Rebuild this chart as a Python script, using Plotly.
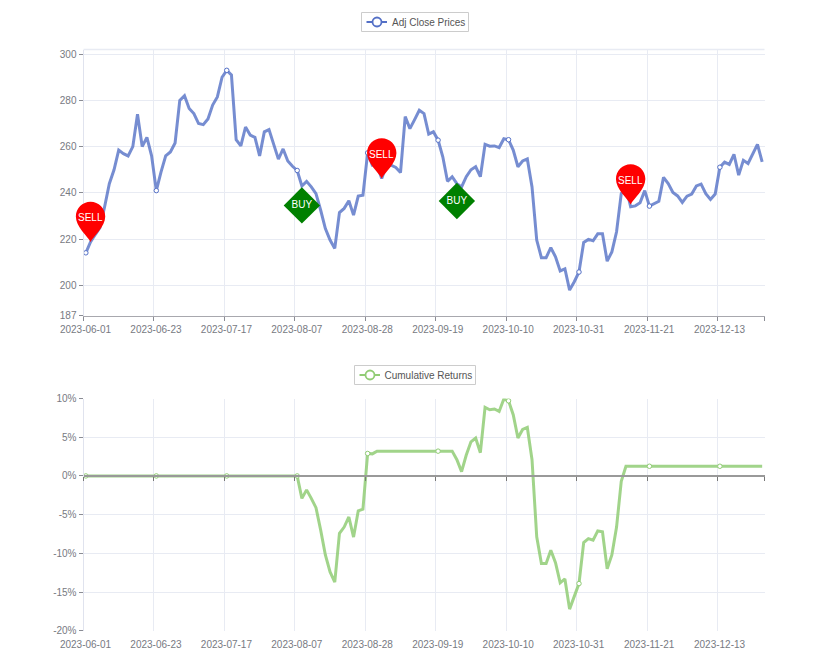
import pandas as pd
import plotly.graph_objects as go

holidays = ["2023-06-19", "2023-07-04", "2023-09-04", "2023-11-23", "2023-12-25"]
dates = [d.strftime("%Y-%m-%d") for d in pd.bdate_range("2023-06-01", "2023-12-27")
         if d.strftime("%Y-%m-%d") not in holidays]

prices = [214.1, 218.8, 222.0, 225.0, 234.0, 244.0, 250.0, 258.5, 257.0, 256.0,
          260.0, 274.0, 260.0, 264.0, 256.0, 241.0, 249.0, 256.0, 257.7, 261.6,
          280.0, 282.0, 276.5, 274.3, 270.0, 269.5, 272.0, 278.0, 281.5, 290.0,
          293.0, 291.0, 263.0, 260.3, 268.5, 265.0, 264.0, 256.0, 266.4, 267.4,
          261.0, 254.6, 259.0, 253.8, 251.5, 249.7, 243.0, 245.0, 242.6, 239.7,
          232.5, 224.6, 219.6, 216.0, 231.5, 233.3, 236.6, 230.4, 238.6, 239.0,
          257.3, 252.0, 252.0, 246.2, 252.0, 252.0, 251.0, 248.8, 273.0, 267.8,
          271.7, 275.7, 274.3, 265.4, 266.4, 262.8, 255.6, 245.0, 247.0, 244.0,
          242.6, 247.0, 250.0, 251.3, 247.0, 261.0, 260.2, 260.3, 259.6, 263.4,
          263.0, 258.5, 251.3, 253.8, 254.7, 242.6, 219.6, 212.0, 212.0, 216.3,
          212.4, 206.3, 207.2, 198.0, 201.6, 205.8, 218.6, 219.9, 219.3, 222.3,
          222.3, 210.5, 214.5, 223.2, 239.7, 242.6, 234.0, 234.4, 235.7, 241.0,
          234.3, 235.4, 236.4, 246.7, 244.0, 240.2, 238.7, 235.9, 238.6, 239.5,
          243.0, 243.8, 239.7, 237.2, 239.5, 251.1, 253.3, 252.3, 256.7, 247.7,
          254.1, 252.7, 256.7, 261.0, 253.4]

returns = [0.0, 0.0, 0.0, 0.0, 0.0, 0.0, 0.0, 0.0, 0.0, 0.0,
           0.0, 0.0, 0.0, 0.0, 0.0, 0.0, 0.0, 0.0, 0.0, 0.0,
           0.0, 0.0, 0.0, 0.0, 0.0, 0.0, 0.0, 0.0, 0.0, 0.0,
           0.0, 0.0, 0.0, 0.0, 0.0, 0.0, 0.0, 0.0, 0.0, 0.0,
           0.0, 0.0, 0.0, 0.0, 0.0, 0.0, -2.9, -1.8, -2.9, -4.1,
           -7.0, -10.2, -12.4, -13.7, -7.4, -6.6, -5.3, -7.9, -4.5, -4.3,
           2.9, 2.85, 3.2, 3.2, 3.2, 3.2, 3.2, 3.2, 3.2, 3.2,
           3.2, 3.2, 3.2, 3.2, 3.2, 3.2, 3.2, 3.2, 3.2, 2.1,
           0.56, 2.7, 4.4, 4.9, 3.0, 8.85, 8.55, 8.64, 8.33, 9.93,
           9.7, 7.9, 4.9, 6.0, 6.26, 2.1, -7.86, -11.3, -11.3, -9.6,
           -11.2, -13.8, -13.3, -17.2, -15.6, -13.9, -8.6, -8.1, -8.3, -7.1,
           -7.2, -12.0, -10.2, -6.6, -0.7, 1.25, 1.25, 1.25, 1.25, 1.25,
           1.25, 1.25, 1.25, 1.25, 1.25, 1.25, 1.25, 1.25, 1.25, 1.25,
           1.25, 1.25, 1.25, 1.25, 1.25, 1.25, 1.25, 1.25, 1.25, 1.25,
           1.25, 1.25, 1.25, 1.25, 1.25]

sell_dates = ["2023-06-02", "2023-08-31", "2023-11-15"]
sell_values = [218.8, 246.2, 235.0]
buy_dates = ["2023-08-08", "2023-09-25"]
buy_values = [234.6, 236.5]
tick_dates = ["2023-06-01", "2023-06-23", "2023-07-17", "2023-08-07", "2023-08-28",
              "2023-09-19", "2023-10-10", "2023-10-31", "2023-11-21", "2023-12-13"]
price_ticks = [187, 200, 220, 240, 260, 280, 300]
return_ticks = [-20, -15, -10, -5, 0, 5, 10]

W, H = 830, 664
BLUE, GREEN = "#5470c6", "#91cc75"
LINE_BLUE, LINE_GREEN = "rgba(84,112,198,0.8)", "rgba(145,204,117,0.85)"
GRID, TXT, TICK = "#E8EBF3", "#777A82", "#8A8C94"
FONT = "Liberation Sans, Arial, sans-serif"
PMIN, PMAX = 187, 302
XD = [83.5 / W, 764.5 / W]
Y1 = [(H - 315.5) / H, (H - 49.5) / H]
Y2 = [(H - 630.8) / H, (H - 398.5) / H]
XR = [-0.5, len(dates) - 0.5]
PIN = ("M0,0 C-3,6 -14.7,15 -14.7,25.5 C-14.7,33.6 -8.1,40.2 0,40.2 "
       "C8.1,40.2 14.7,33.6 14.7,25.5 C14.7,15 3,6 0,0 Z")

fig = go.Figure()


def add_series(name, values, line, color, xa, ya, legend):
    fig.add_trace(go.Scatter(x=dates, y=values, mode="lines", xaxis=xa, yaxis=ya,
                             line=dict(color=line, width=3), showlegend=False, hoverinfo="x+y"))
    fig.add_trace(go.Scatter(x=dates[::15], y=values[::15], mode="markers", xaxis=xa, yaxis=ya,
                             marker=dict(size=4.5, color="white", line=dict(color=color, width=1)),
                             showlegend=False, hoverinfo="skip"))
    fig.add_trace(go.Scatter(x=[None], y=[None], name=name, mode="markers", xaxis=xa, yaxis=ya,
                             marker=dict(size=1, color="rgba(0,0,0,0)"), legend=legend))


add_series("Adj Close Prices", prices, LINE_BLUE, BLUE, "x", "y", "legend")
add_series("Cumulative Returns", returns, LINE_GREEN, GREEN, "x2", "y2", "legend2")

fig.add_trace(go.Scatter(x=buy_dates, y=buy_values, mode="markers+text", text=["BUY"] * len(buy_dates),
                         textposition="middle center", textfont=dict(color="white", size=10, family=FONT),
                         marker=dict(symbol="diamond", size=28, color="green"),
                         showlegend=False, xaxis="x", yaxis="y", hoverinfo="skip"))
# carrier for the tick marks that sit on the zero line of the lower chart
fig.add_trace(go.Scatter(x=dates[:1], y=[0], mode="markers", marker=dict(opacity=0),
                         showlegend=False, xaxis="x3", yaxis="y2", hoverinfo="skip"))

# top edge of the upper plot carries a split line at the axis maximum
shapes = [dict(type="line", xref="x domain", yref="y domain", x0=0, x1=1, y0=1, y1=1,
               line=dict(color=GRID, width=1.5), layer="below")]
annotations = []
for d, v in zip(sell_dates, sell_values):
    fx = (dates.index(d) + 0.5) / len(dates)
    fy = (v - PMIN) / (PMAX - PMIN)
    shapes.append(dict(type="path", xref="x domain", yref="y domain", xsizemode="pixel", ysizemode="pixel",
                       xanchor=fx, yanchor=fy, path=PIN, fillcolor="red", line=dict(width=0), layer="above"))
    annotations.append(dict(x=d, y=v, xref="x", yref="y", text="SELL", showarrow=False, yshift=24,
                            font=dict(color="white", size=10, family=FONT)))


def legend_chrome(left, right, top, bottom, color):
    """Frame and line-and-ring key of a legend, in page pixels."""
    mid = (top + bottom) / 2
    def px(a): return a / W
    def py(a): return 1 - a / H
    shapes.append(dict(type="rect", xref="paper", yref="paper", x0=px(left), x1=px(right), y0=py(bottom), y1=py(top),
                       line=dict(color="#ccc", width=1), fillcolor="white", layer="above"))
    shapes.append(dict(type="line", xref="paper", yref="paper", x0=px(left + 5), x1=px(left + 25.5), y0=py(mid), y1=py(mid),
                       line=dict(color=color, width=2), layer="above"))
    shapes.append(dict(type="circle", xref="paper", yref="paper", x0=px(left + 11), x1=px(left + 20), y0=py(mid + 4.5),
                       y1=py(mid - 4.5), line=dict(color=color, width=1.8), fillcolor="white", layer="above"))


legend_chrome(361.5, 468.5, 12.5, 31.5, BLUE)
legend_chrome(354.5, 475.5, 365.5, 384.5, GREEN)

tickvals = [dates.index(d) - 0.5 for d in tick_dates] + [XR[1]]
ticktext = tick_dates + [""]
xcommon = dict(type="category", range=XR, domain=XD, tickmode="array", tickvals=tickvals, ticktext=ticktext,
               showgrid=True, gridcolor=GRID, gridwidth=1, zeroline=False, ticklabelshift=2, automargin=False,
               tickfont=dict(size=10, color=TXT, family=FONT), ticks="outside", ticklen=4, tickangle=0)
ycommon = dict(showgrid=True, gridcolor=GRID, gridwidth=1, zeroline=False, showline=True, linecolor="#E0E3EE",
               ticks="outside", ticklen=4, tickcolor=TICK, tickfont=dict(size=10, color=TXT, family=FONT),
               tickmode="array", automargin=False)
legcommon = dict(xanchor="left", yanchor="top", bgcolor="rgba(0,0,0,0)", borderwidth=0,
                 font=dict(size=10, color="#555", family=FONT), itemclick=False, itemdoubleclick=False,
                 itemwidth=30, tracegroupgap=0)

fig.update_layout(
    width=W, height=H, margin=dict(l=0, r=0, t=0, b=0), autosize=False,
    paper_bgcolor="white", plot_bgcolor="white", font=dict(family=FONT),
    xaxis=dict(**xcommon, anchor="y", showline=True, linecolor="#A8A8AE", tickcolor=TICK),
    yaxis=dict(**ycommon, domain=Y1, anchor="x", range=[PMIN, PMAX],
               tickvals=price_ticks, ticktext=[str(t) for t in price_ticks]),
    xaxis2=dict(**xcommon, anchor="y2", showline=False, tickcolor="rgba(0,0,0,0)"),
    yaxis2=dict(**ycommon, domain=Y2, anchor="x2", range=[return_ticks[0], return_ticks[-1]],
                tickvals=return_ticks, ticktext=[f"{t}%" for t in return_ticks]),
    xaxis3=dict(type="category", range=XR, domain=XD, overlaying="x2", anchor="free", automargin=False,
                position=Y2[0] + (Y2[1] - Y2[0]) * 20 / 30, tickmode="array", tickvals=tickvals,
                ticktext=[""] * len(tickvals), showticklabels=False, showgrid=False, zeroline=False, showline=True,
                linecolor="#999", linewidth=1.5, ticks="outside", ticklen=4, tickcolor="#777"),
    legend=dict(**legcommon, x=(392 - 40) / W, y=(H - 8) / H),
    legend2=dict(**legcommon, x=(384.5 - 40) / W, y=(H - 361) / H),
    shapes=shapes, annotations=annotations,
)

fig.write_html("out.html", config={"displayModeBar": False},
               post_script="document.body.style.margin='0';")
